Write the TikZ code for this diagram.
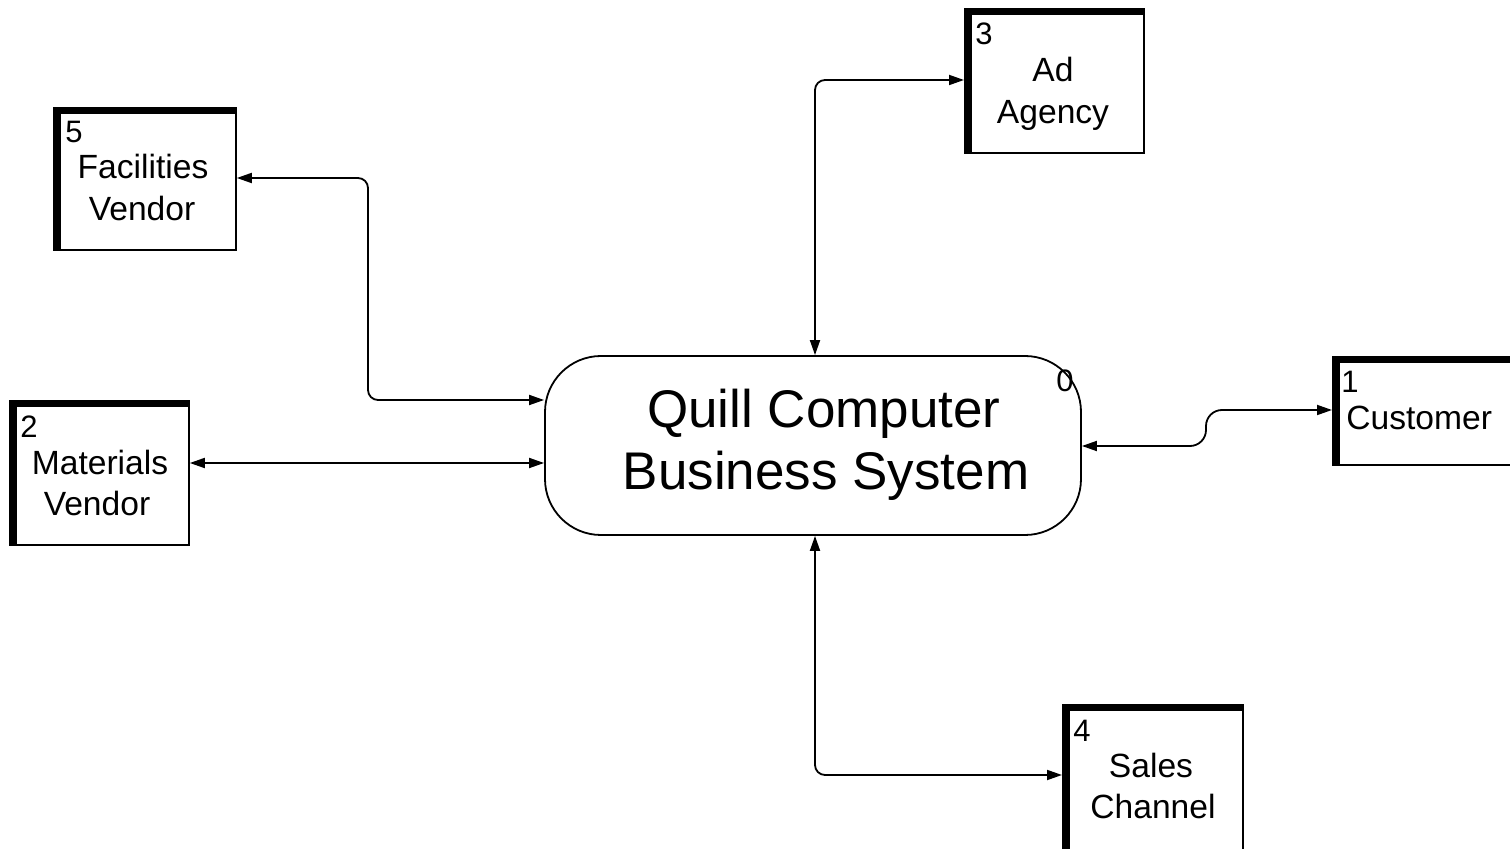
\documentclass[tikz,border=0pt]{standalone}
\usepackage{fontspec}
\setmainfont{Liberation Sans}
\usetikzlibrary{arrows.meta}
\begin{document}
\begin{tikzpicture}[x=0.5pt,y=-0.5pt,
  ent/.style={draw, line width=0.9pt, anchor=north west, inner sep=0pt},
  lbl/.style={anchor=base, inner sep=0pt, font=\fontsize{16.8pt}{20pt}\selectfont},
  num/.style={anchor=base west, inner sep=0pt, font=\fontsize{15.5pt}{18pt}\selectfont},
  big/.style={anchor=base, inner sep=0pt, font=\fontsize{26.5pt}{31pt}\selectfont},
  flow/.style={line width=0.9pt, {Triangle[length=7.5pt,width=5pt]}-{Triangle[length=7.5pt,width=5pt]}, rounded corners=5pt},
  thick/.style={fill=black}]
\useasboundingbox (0,0) rectangle (1510,849);
\clip (0,0) rectangle (1510,849);

% central process
\node[draw, line width=0.9pt, rounded corners=28pt, minimum width={536*0.5pt}, minimum height={179*0.5pt}, inner sep=0pt] (sys) at (813,445.5) {};
\node[big] (t1) at (824,428) {Quill Computer};
\node[big] (t2) at (826,490) {Business System};
\node[num] (n0) at (1056,392) {0};

% entity 3
\node[ent, minimum width={179*0.5pt}, minimum height={144*0.5pt}] (b3) at (964,8) {};
\fill[thick] (b3.north west) rectangle ([xshift=4pt]b3.south west);
\fill[thick] (b3.north west) rectangle ([yshift=-3.5pt]b3.north east);
\node[num] (n3) at (975,45) {3};
\node[lbl] (l3a) at (1053,82) {Ad};
\node[lbl] (l3b) at (1053,124) {Agency};

% entity 5
\node[ent, minimum width={182*0.5pt}, minimum height={142*0.5pt}] (b5) at (53,107) {};
\fill[thick] (b5.north west) rectangle ([xshift=4pt]b5.south west);
\fill[thick] (b5.north west) rectangle ([yshift=-3.5pt]b5.north east);
\node[num] (n5) at (65,143) {5};
\node[lbl] (l5a) at (143,179) {Facilities};
\node[lbl] (l5b) at (142,221) {Vendor};

% entity 2
\node[ent, minimum width={179*0.5pt}, minimum height={144*0.5pt}] (b2) at (9,400) {};
\fill[thick] (b2.north west) rectangle ([xshift=4pt]b2.south west);
\fill[thick] (b2.north west) rectangle ([yshift=-3.5pt]b2.north east);
\node[num] (n2) at (20,438) {2};
\node[lbl] (l2a) at (100,475) {Materials};
\node[lbl] (l2b) at (97,516) {Vendor};

% entity 1
\node[ent, minimum width={178*0.5pt}, minimum height={108*0.5pt}] (b1) at (1332,356) {};
\fill[thick] (b1.north west) rectangle ([xshift=4pt]b1.south west);
\fill[thick] (b1.north west) rectangle ([yshift=-3.5pt]b1.north east);
\node[num] (n1) at (1341,393) {1};
\node[lbl, anchor=base west] (l1) at (1346,430) {Customer};

% entity 4
\node[ent, minimum width={180*0.5pt}, minimum height={150*0.5pt}] (b4) at (1062,704) {};
\fill[thick] (b4.north west) rectangle ([xshift=4pt]b4.south west);
\fill[thick] (b4.north west) rectangle ([yshift=-3.5pt]b4.north east);
\node[num] (n4) at (1073,741) {4};
\node[lbl] (l4a) at (1151,777) {Sales};
\node[lbl] (l4b) at (1153,818) {Channel};

% data flows
\coordinate (c3) at (815,80);
\coordinate (c5a) at (368,178);
\coordinate (c5b) at (368,400);
\coordinate (c1a) at (1206,446);
\coordinate (c1b) at (1206,410);
\coordinate (c4) at (815,775);

\draw[flow] (sys.north -| c3) -- (c3) -- (b3.west |- c3);
\draw[flow] (b5.east |- c5a) -- (c5a) -- (c5b) -- (sys.west |- c5b);
\draw[flow] (b2.east |- 0,463) -- (sys.west |- 0,463);
\draw[flow, rounded corners=8pt] (sys.east |- c1a) -- (c1a) -- (c1b) -- (b1.west |- c1b);
\draw[flow] (sys.south -| c4) -- (c4) -- (b4.west |- c4);
\end{tikzpicture}
\end{document}
